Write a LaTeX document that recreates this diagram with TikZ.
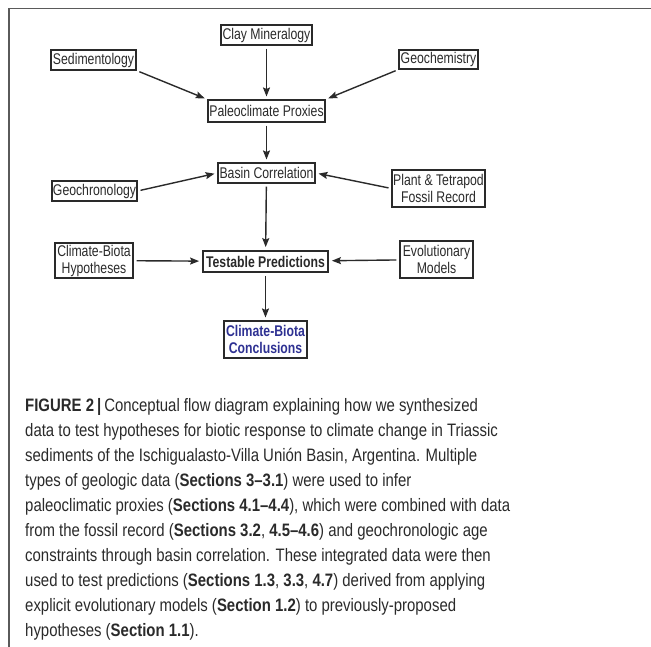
\documentclass[tikz,border=0pt]{standalone}
\usepackage{fontspec}
\setmainfont{Liberation Sans}
\newfontfamily\diagfont{Liberation Sans}[FakeStretch=0.79]
\newfontfamily\capfont{Liberation Sans}[FakeStretch=0.83]
\usetikzlibrary{arrows.meta}
\definecolor{ink}{HTML}{2A2A2A}
\definecolor{navy}{HTML}{2E3192}
\definecolor{framegray}{HTML}{5A5A5A}
\begin{document}
\begin{tikzpicture}[x=1pt,y=-1pt,
  box/.style={draw=ink, line width=1.1pt, inner sep=0pt, align=center,
    font=\diagfont\fontsize{15.5}{17}\selectfont, text=ink},
  arr/.style={draw=ink, line width=1.4pt,
    -{Stealth[length=9pt,width=7pt,inset=1.5pt]}, shorten >=3pt, shorten <=3pt},
  capline/.style={anchor=base west, inner sep=0pt,
    font=\capfont\fontsize{18}{25}\selectfont, text=ink}
]
\useasboundingbox (0,0) rectangle (651,647);
\draw[framegray, line width=1.5pt] (9,647) -- (9,8.5) -- (651,8.5);

\node[box, minimum width=91pt, minimum height=20pt] (clay) at (266.5,35) {Clay Mineralogy};
\node[box, minimum width=85pt, minimum height=20pt] (sed) at (93.5,60) {Sedimentology};
\node[box, minimum width=79pt, minimum height=19pt] (geo) at (438.5,59.5) {Geochemistry};
\node[box, minimum width=117pt, minimum height=22pt] (paleo) at (266.5,111) {Paleoclimate Proxies};
\node[box, minimum width=97pt, minimum height=20pt] (basin) at (266.5,173) {Basin Correlation};
\node[box, minimum width=85pt, minimum height=20pt] (chron) at (94.5,191) {Geochronology};
\node[box, minimum width=93pt, minimum height=37pt] (plant) at (438.5,188.5) {Plant \& Tetrapod\\Fossil Record};
\node[box, minimum width=78pt, minimum height=35pt] (hyp) at (94,260.5) {Climate-Biota\\Hypotheses};
\node[box, line width=1.8pt, minimum width=125pt, minimum height=21pt, font=\diagfont\bfseries\fontsize{15.5}{17}\selectfont] (test) at (265.5,261.5) {Testable Predictions};
\node[box, minimum width=73pt, minimum height=37pt] (evol) at (436.5,259.5) {Evolutionary\\Models};
\node[box, minimum width=83pt, minimum height=37pt, text=navy, font=\diagfont\bfseries\fontsize{15.5}{17}\selectfont] (concl) at (265.5,339.5) {Climate-Biota\\Conclusions};

\draw[arr] (clay) -- (paleo);
\draw[arr] (sed.south east) -- (paleo.north west);
\draw[arr] (geo.south west) -- (paleo.north east);
\draw[arr] (paleo) -- (basin);
\draw[arr] (chron.east) -- (basin.west);
\draw[arr] (plant.west) -- (basin.east);
\draw[arr] (basin) -- (test);
\draw[arr] (hyp) -- (test);
\draw[arr] (evol) -- (test);
\draw[arr] (test) -- (concl);

\node[capline] (c1) at (25,411) {\textbf{FIGURE 2\,|}\,Conceptual flow diagram explaining how we synthesized};
\node[capline] (c2) at (25,436) {data to test hypotheses for biotic response to climate change in Triassic};
\node[capline] (c3) at (25,461) {sediments of the Ischigualasto-Villa Unión Basin, Argentina. Multiple};
\node[capline] (c4) at (25,486) {types of geologic data (\textbf{Sections 3–3.1}) were used to infer};
\node[capline] (c5) at (25,511) {paleoclimatic proxies (\textbf{Sections 4.1–4.4}), which were combined with data};
\node[capline] (c6) at (25,536) {from the fossil record (\textbf{Sections 3.2}, \textbf{4.5–4.6}) and geochronologic age};
\node[capline] (c7) at (25,561) {constraints through basin correlation. These integrated data were then};
\node[capline] (c8) at (25,586) {used to test predictions (\textbf{Sections 1.3}, \textbf{3.3}, \textbf{4.7}) derived from applying};
\node[capline] (c9) at (25,611) {explicit evolutionary models (\textbf{Section 1.2}) to previously-proposed};
\node[capline] (c10) at (25,636) {hypotheses (\textbf{Section 1.1}).};
\end{tikzpicture}
\end{document}
